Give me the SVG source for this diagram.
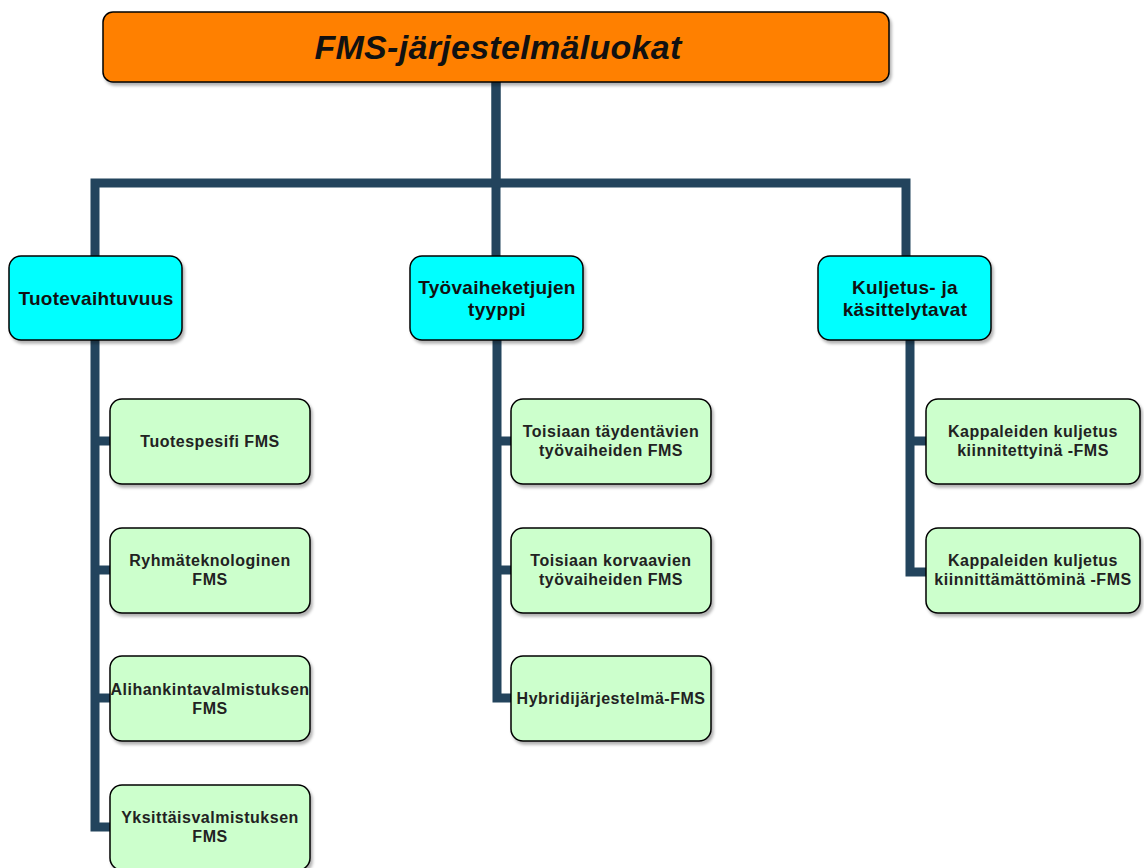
<svg xmlns="http://www.w3.org/2000/svg" width="1144" height="868" viewBox="0 0 1144 868">
<defs>
<filter id="sh" x="-10%" y="-10%" width="130%" height="140%">
<feDropShadow dx="2" dy="3" stdDeviation="1.5" flood-color="#000" flood-opacity="0.3"/>
</filter>
<style>
.edge{fill:none;stroke:#23445D;stroke-width:9;stroke-linejoin:miter}
.box{stroke:#000;stroke-width:1.5;filter:url(#sh)}
.top{fill:#FF8000}
.cat{fill:#00FFFF}
.leaf{fill:#CCFFCC}
text{font-family:"Liberation Sans",Arial,sans-serif;font-weight:bold;text-anchor:middle;fill:#111}
.t0{font-size:34px;font-style:italic;letter-spacing:0.3px}
.t1{font-size:19px;letter-spacing:0.3px}
.t2{font-size:16px;letter-spacing:0.5px;fill:#222}
</style>
</defs>
<rect width="1144" height="868" fill="#fff"/>
<g id="connectors">
<path class="edge" d="M496,82 V183 H95 V256"/>
<path class="edge" d="M496,82 V256"/>
<path class="edge" d="M496,183 H906 V256"/>
<path class="edge" d="M95,340 V827 H110"/>
<path class="edge" d="M95,441 H110"/>
<path class="edge" d="M95,570 H110"/>
<path class="edge" d="M95,698 H110"/>
<path class="edge" d="M497,340 V698 H511"/>
<path class="edge" d="M497,441 H511"/>
<path class="edge" d="M497,570 H511"/>
<path class="edge" d="M910,340 V572 H926"/>
<path class="edge" d="M910,441 H926"/>
</g>
<g id="root">
<rect class="box top" x="103" y="12" width="786" height="70" rx="10"/>
<text class="t0" x="498" y="59">FMS-järjestelmäluokat</text>
</g>
<g id="cat1">
<rect class="box cat" x="9" y="256" width="173" height="84" rx="12"/>
<text class="t1" x="96" y="305">Tuotevaihtuvuus</text>
</g>
<g id="cat2">
<rect class="box cat" x="410" y="256" width="173" height="84" rx="12"/>
<text class="t1" x="497" y="294">Työvaiheketjujen</text>
<text class="t1" x="497" y="316">tyyppi</text>
</g>
<g id="cat3">
<rect class="box cat" x="818" y="256" width="173" height="84" rx="12"/>
<text class="t1" x="905" y="294">Kuljetus- ja</text>
<text class="t1" x="905" y="316">käsittelytavat</text>
</g>
<g id="leaf1">
<rect class="box leaf" x="110" y="399" width="200" height="85" rx="12"/>
<text class="t2" x="210" y="447">Tuotespesifi FMS</text>
</g>
<g id="leaf2">
<rect class="box leaf" x="110" y="528" width="200" height="85" rx="12"/>
<text class="t2" x="210" y="566">Ryhmäteknologinen</text>
<text class="t2" x="210" y="585">FMS</text>
</g>
<g id="leaf3">
<rect class="box leaf" x="110" y="656" width="200" height="85" rx="12"/>
<text class="t2" x="210" y="695">Alihankintavalmistuksen</text>
<text class="t2" x="210" y="714">FMS</text>
</g>
<g id="leaf4">
<rect class="box leaf" x="110" y="785" width="200" height="85" rx="12"/>
<text class="t2" x="210" y="823">Yksittäisvalmistuksen</text>
<text class="t2" x="210" y="842">FMS</text>
</g>
<g id="leaf5">
<rect class="box leaf" x="511" y="399" width="200" height="85" rx="12"/>
<text class="t2" x="611" y="437">Toisiaan täydentävien</text>
<text class="t2" x="611" y="456">työvaiheiden FMS</text>
</g>
<g id="leaf6">
<rect class="box leaf" x="511" y="528" width="200" height="85" rx="12"/>
<text class="t2" x="611" y="566">Toisiaan korvaavien</text>
<text class="t2" x="611" y="585">työvaiheiden FMS</text>
</g>
<g id="leaf7">
<rect class="box leaf" x="511" y="656" width="200" height="85" rx="12"/>
<text class="t2" x="611" y="704">Hybridijärjestelmä-FMS</text>
</g>
<g id="leaf8">
<rect class="box leaf" x="926" y="399" width="214" height="85" rx="12"/>
<text class="t2" x="1033" y="437">Kappaleiden kuljetus</text>
<text class="t2" x="1033" y="456">kiinnitettyinä -FMS</text>
</g>
<g id="leaf9">
<rect class="box leaf" x="926" y="528" width="214" height="85" rx="12"/>
<text class="t2" x="1033" y="566">Kappaleiden kuljetus</text>
<text class="t2" x="1033" y="585">kiinnittämättöminä -FMS</text>
</g>
</svg>
